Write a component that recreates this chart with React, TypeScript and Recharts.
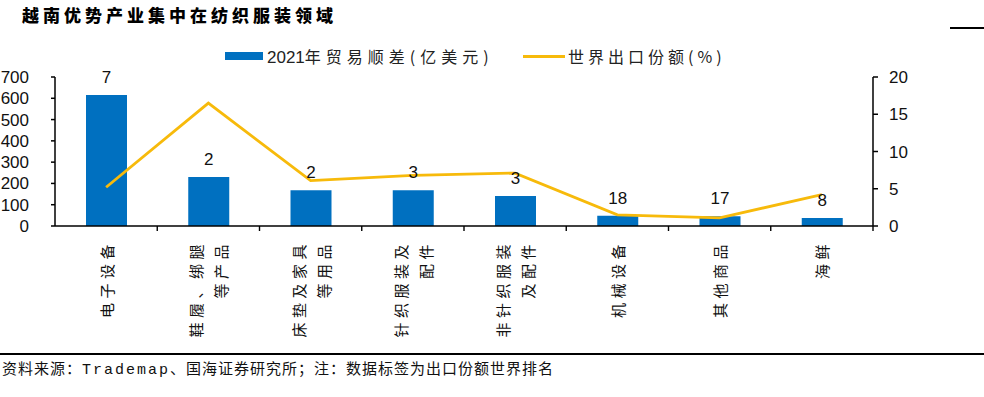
import React from 'react';
import { ComposedChart, Bar, Line, XAxis, YAxis, LabelList } from 'recharts';

const categories = [
  '电子设备',
  '鞋履、绑腿\n等产品',
  '床垫及家具\n等用品',
  '针织服装及\n配件',
  '非针织服装\n及配件',
  '机械设备',
  '其他商品',
  '海鲜',
];
const tradeSurplus = [615, 230, 168, 168, 141, 48, 46, 38];
const exportShare = [5.2, 16.5, 6.1, 6.8, 7.1, 1.5, 1.1, 4.2];
const exportRank = [7, 2, 2, 3, 3, 18, 17, 8];
const leftTicks = [0, 100, 200, 300, 400, 500, 600, 700];
const rightTicks = [0, 5, 10, 15, 20];

const data = categories.map((name, i) => ({
  name,
  surplus: tradeSurplus[i],
  share: exportShare[i],
  rank: exportRank[i],
}));

const BLUE = '#0070C0';
const GOLD = '#F7BA0B';
const CJK = '"Noto Sans CJK SC", sans-serif';
const NUM = '"Liberation Sans", Arial, sans-serif';

const numTick = { fontSize: 17, fill: '#111', fontFamily: NUM };

function CategoryTick(props: any) {
  const { x, y, payload } = props;
  const lines = String(payload.value).split('\n');
  const half = payload.offset ?? 51;
  const n = lines.length;
  return (
    <g>
      <line x1={x + half} y1={y} x2={x + half} y2={y + 5} stroke="#000" strokeWidth={1.4} />
      <g transform={`translate(${x},${y + 14}) rotate(-90)`}>
        <text
          textAnchor="end"
          fontSize={15}
          fontFamily={CJK}
          fill="#111"
          letterSpacing={4.5}
        >
          {lines.map((l, i) => (
            <tspan key={i} x={0} y={(i - (n - 1) / 2) * 25} dominantBaseline="central">
              {l}
            </tspan>
          ))}
        </text>
      </g>
    </g>
  );
}

export default function App() {
  return (
    <div
      style={{
        position: 'absolute',
        left: 0,
        top: 0,
        width: 984,
        height: 397,
        overflow: 'hidden',
        background: '#fff',
      }}
    >
      <div
        style={{
          position: 'absolute',
          left: 22,
          top: 2,
          fontFamily: CJK,
          fontWeight: 900,
          fontSize: 17,
          letterSpacing: 4,
          color: '#000',
          whiteSpace: 'nowrap',
        }}
      >
        越南优势产业集中在纺织服装领域
      </div>
      <div style={{ position: 'absolute', left: 950, top: 27, width: 34, height: 1.5, background: '#000' }} />

      {/* legend */}
      <div style={{ position: 'absolute', left: 225, top: 52, width: 38, height: 8, background: BLUE }} />
      <div
        style={{
          position: 'absolute',
          left: 267,
          top: 44,
          whiteSpace: 'nowrap',
          color: '#222',
          lineHeight: '24px',
        }}
      >
        <span style={{ fontFamily: NUM, fontSize: 17 }}>2021</span>
        <span style={{ fontFamily: CJK, fontSize: 16, letterSpacing: 5 }}>年贸易顺差(亿美元)</span>
      </div>
      <div style={{ position: 'absolute', left: 523, top: 55, width: 42, height: 2.5, background: GOLD }} />
      <div
        style={{
          position: 'absolute',
          left: 568,
          top: 44,
          whiteSpace: 'nowrap',
          color: '#222',
          lineHeight: '24px',
          fontFamily: CJK,
          fontSize: 16,
          letterSpacing: 4,
        }}
      >
        世界出口份额(%)
      </div>

      <div style={{ position: 'absolute', left: 0, top: 0 }}>
        <ComposedChart
          width={984}
          height={397}
          data={data}
          margin={{ top: 77, right: 51, bottom: 51, left: 0 }}
        >
          <XAxis
            dataKey="name"
            interval={0}
            height={120}
            tickLine={false}
            tickSize={0}
            tickMargin={0}
            axisLine={{ stroke: '#000', strokeWidth: 1.5 }}
            tick={<CategoryTick />}
          />
          <YAxis
            yAxisId="left"
            width={55}
            domain={[0, 700]}
            ticks={leftTicks}
            interval={0}
            tickSize={4}
            tickMargin={22}
            axisLine={{ stroke: '#000', strokeWidth: 1.5 }}
            tickLine={{ stroke: '#000', strokeWidth: 1.5 }}
            tick={numTick}
          />
          <YAxis
            yAxisId="right"
            orientation="right"
            width={60}
            domain={[0, 20]}
            ticks={rightTicks}
            interval={0}
            tickSize={5}
            tickMargin={11}
            axisLine={{ stroke: '#000', strokeWidth: 1.5 }}
            tickLine={{ stroke: '#000', strokeWidth: 1.5 }}
            tick={numTick}
          />
          <Bar yAxisId="left" dataKey="surplus" fill={BLUE} barSize={41} isAnimationActive={false}>
            <LabelList
              dataKey="rank"
              position="top"
              offset={12}
              style={{ fontSize: 17, fill: '#111', fontFamily: NUM }}
            />
          </Bar>
          <Line
            yAxisId="right"
            type="linear"
            dataKey="share"
            stroke={GOLD}
            strokeWidth={2.8}
            dot={false}
            isAnimationActive={false}
          />
        </ComposedChart>
      </div>

      <div style={{ position: 'absolute', left: 0, top: 353, width: 984, height: 1.5, background: '#000' }} />
      <div
        style={{
          position: 'absolute',
          left: 2,
          top: 357,
          whiteSpace: 'nowrap',
          fontSize: 15,
          letterSpacing: 1,
          color: '#111',
          lineHeight: '22px',
        }}
      >
        <span style={{ fontFamily: CJK }}>资料来源：</span>
        <span style={{ fontFamily: '"Liberation Mono", monospace', letterSpacing: 2 }}>Trademap</span>
        <span style={{ fontFamily: CJK }}>、国海证券研究所；注：数据标签为出口份额世界排名</span>
      </div>
    </div>
  );
}
